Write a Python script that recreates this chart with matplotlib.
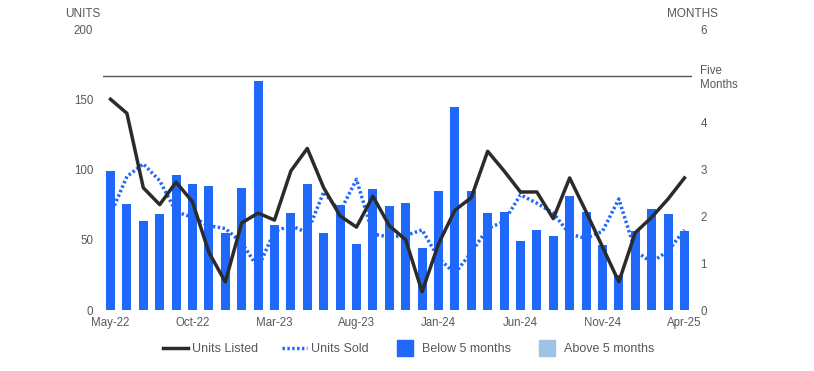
import numpy as np
import matplotlib.pyplot as plt
from matplotlib.lines import Line2D

months = ["May-22", "Jun-22", "Jul-22", "Aug-22", "Sep-22", "Oct-22", "Nov-22", "Dec-22",
          "Jan-23", "Feb-23", "Mar-23", "Apr-23", "May-23", "Jun-23", "Jul-23", "Aug-23",
          "Sep-23", "Oct-23", "Nov-23", "Dec-23", "Jan-24", "Feb-24", "Mar-24", "Apr-24",
          "May-24", "Jun-24", "Jul-24", "Aug-24", "Sep-24", "Oct-24", "Nov-24", "Dec-24",
          "Jan-25", "Feb-25", "Mar-25", "Apr-25"]

# months of supply (right axis)
supply = [2.96, 2.27, 1.89, 2.06, 2.89, 2.68, 2.64, 1.65, 2.61, 4.90, 1.82, 2.08,
          2.68, 1.65, 2.25, 1.42, 2.59, 2.23, 2.29, 1.33, 2.55, 4.34, 2.55, 2.08,
          2.10, 1.48, 1.70, 1.59, 2.44, 2.10, 1.38, 0.75, 1.68, 2.15, 2.04, 1.68]

units_listed = [150, 140, 87, 75, 91, 77, 41, 20, 62, 69, 64, 99,
                115, 87, 67, 59, 81, 60, 50, 13, 47, 71, 80, 113,
                99, 84, 84, 65, 94, 70, 45, 20, 55, 66, 79, 94]

units_sold = [68, 95, 104, 92, 70, 66, 60, 58, 48, 30, 56, 60,
              55, 84, 70, 93, 54, 52, 53, 57, 37, 26, 41, 58,
              63, 82, 76, 69, 54, 51, 56, 79, 42, 34, 42, 57]

threshold = 5
tick_every = 5

txt = "#5a5560"
plt.rcParams["font.family"] = ["Liberation Sans", "DejaVu Sans"]
plt.rcParams["font.size"] = 8.3

fig = plt.figure(figsize=(8.14, 3.71), dpi=100)
ax = fig.add_axes([0.1265, 0.1644, 0.7236, 0.7574])
ax2 = ax.twinx()
x = np.arange(len(months))
vals = np.array(supply)
below = np.where(vals < threshold, vals, 0)
above = np.where(vals >= threshold, vals, 0)
ax.bar(x, below, width=0.55, color="#1f68fa", zorder=2)
ax.bar(x, above, width=0.55, color="#9dc3e6", zorder=2)
ax.axhline(threshold, color="#555555", lw=1, zorder=1)
ax.set_ylim(0, 6)
ax.set_xlim(-0.46, len(months) - 0.54)
ax.yaxis.tick_right()
ax.set_yticks([0, 1, 2, 3, 4, 5, 6])
ax.set_yticklabels(["0", "1", "2", "3", "4", "Five\nMonths", "6"], linespacing=1.15)
ax.tick_params(axis="y", length=0, pad=6, labelcolor=txt)
ax.set_xticks(x[::tick_every])
ax.set_xticklabels(months[::tick_every])
ax.tick_params(axis="x", length=0, pad=5, labelcolor=txt)
for s in ax.spines.values():
    s.set_visible(False)

ax2.plot(x, units_listed, color="#2b2b2b", lw=2.5, zorder=4)
ax2.plot(x, units_sold, color="#1f68fa", lw=2.5, ls=(0, (0.7, 0.7)), zorder=3)
ax2.set_ylim(0, 200)
ax2.yaxis.tick_left()
ax2.set_yticks([0, 50, 100, 150, 200])
ax2.tick_params(axis="y", length=0, pad=7, labelcolor=txt)
for s in ax2.spines.values():
    s.set_visible(False)

fig.text(0.123, 0.962, "UNITS", ha="right", va="center", color=txt, fontsize=8.5)
fig.text(0.851, 0.962, "MONTHS", ha="center", va="center", color=txt, fontsize=8.5)

handles = [Line2D([], [], color="#2b2b2b", lw=2.5),
           Line2D([], [], color="#1f68fa", lw=2.5, ls=(0, (0.7, 0.7))),
           Line2D([], [], ls="none", marker="s", markersize=11.5, color="#1f68fa"),
           Line2D([], [], ls="none", marker="s", markersize=11.5, color="#9dc3e6")]
labels = ["Units Listed", "Units Sold", "Below 5 months", "Above 5 months"]
fig.legend(handles, labels, loc="center", bbox_to_anchor=(0.502, 0.058), ncol=4,
           frameon=False, fontsize=9, labelcolor=txt, handlelength=2.0,
           columnspacing=1.9, handletextpad=0.35)

fig.savefig("out.png", dpi=100)
